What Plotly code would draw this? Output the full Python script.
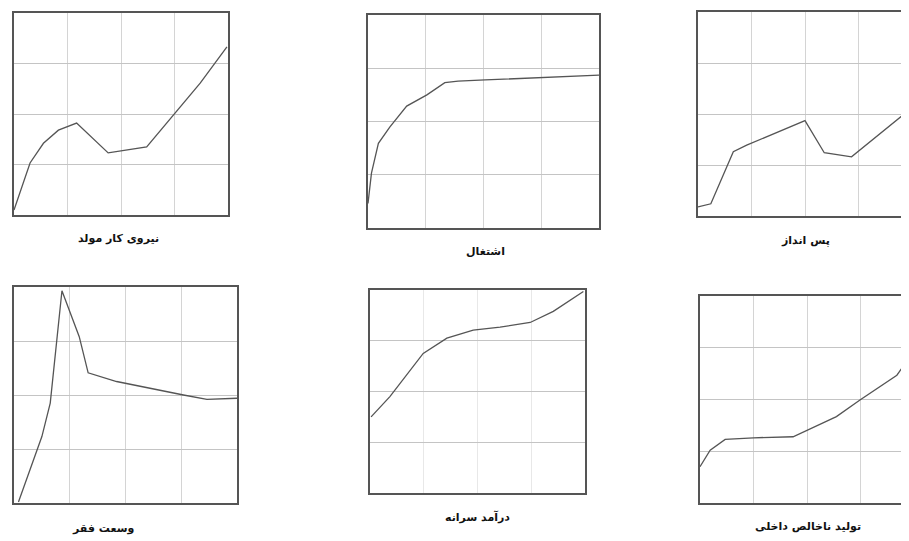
"""Six small line panels (Persian labels) with Plotly."""

import plotly.graph_objects as go

W, H = 909, 541
OFF = 8  # margen por defecto del body en la página

# --- Data (grid units, 4 x 4 grid per panel) ---
labor_x = [0.0, 0.3, 0.55, 0.83, 1.17, 1.76, 2.48, 2.98, 3.48, 3.98]
labor_y = [0.1, 1.03, 1.42, 1.68, 1.82, 1.23, 1.35, 1.98, 2.61, 3.33]

employ_x = [0.0, 0.06, 0.18, 0.38, 0.67, 1.02, 1.33, 1.56, 2.03, 3.0, 4.0]
employ_y = [0.46, 1.03, 1.59, 1.90, 2.29, 2.50, 2.73, 2.76, 2.78, 2.83, 2.87]

saving_x = [0.0, 0.24, 0.66, 0.91, 2.0, 2.36, 2.87, 3.95]
saving_y = [0.18, 0.24, 1.26, 1.39, 1.87, 1.24, 1.16, 2.08]

poverty_x = [0.08, 0.5, 0.65, 0.86, 1.17, 1.33, 1.84, 2.44, 3.04, 3.46, 4.0]
poverty_y = [0.02, 1.23, 1.85, 3.93, 3.08, 2.41, 2.25, 2.12, 2.0, 1.92, 1.94]

income_x = [0.02, 0.37, 0.99, 1.43, 1.92, 2.42, 2.98, 3.41, 3.97]
income_y = [1.50, 1.90, 2.75, 3.05, 3.21, 3.27, 3.36, 3.58, 3.97]

gdp_x = [0.0, 0.19, 0.47, 1.0, 1.74, 2.55, 2.99, 3.68, 3.91]
gdp_y = [0.70, 1.02, 1.23, 1.26, 1.28, 1.67, 1.99, 2.47, 2.80]

labels = ["نیروی کار مولد", "اشتغال", "پس انداز", "وسعت فقر", "درآمد سرانه", "تولید ناخالص داخلی"]

series = [
    (labor_x, labor_y),
    (employ_x, employ_y),
    (saving_x, saving_y),
    (poverty_x, poverty_y),
    (income_x, income_y),
    (gdp_x, gdp_y),
]

# Cajas de cada panel en píxeles de pantalla: (x0, x1, y_top, y_bottom)
boxes = [
    (14, 228, 13, 215),
    (368, 599, 15, 228),
    (698, 912, 12, 216),
    (14, 237, 287, 503),
    (370, 585, 290, 493),
    (700, 914, 296, 503),
]
# Posición de las etiquetas (píxeles de pantalla)
label_pos = [(118, 238), (485, 251), (805, 240), (103, 528), (478, 517), (808, 526)]

fig = go.Figure()
layout = {}
for i, ((xs, ys), (x0, x1, yt, yb)) in enumerate(zip(series, boxes), start=1):
    sfx = "" if i == 1 else str(i)
    fig.add_trace(
        go.Scatter(
            x=xs,
            y=ys,
            mode="lines",
            line=dict(color="#555555", width=1.3),
            xaxis=f"x{sfx}",
            yaxis=f"y{sfx}",
            showlegend=False,
            hoverinfo="skip",
        )
    )
    common = dict(
        showticklabels=False,
        ticks="",
        dtick=1,
        tick0=0,
        showgrid=True,
        gridwidth=1,
        zeroline=False,
        showline=True,
        linecolor="#555555",
        linewidth=1.6,
        mirror=True,
        fixedrange=True,
    )
    layout[f"xaxis{sfx}"] = dict(
        common,
        gridcolor="#d4d4d4" if i != 5 else "#e8e8e8",
        domain=[(x0 - OFF) / W, min(1.0, (x1 - OFF) / W)],
        range=[0, 4],
        anchor=f"y{sfx}",
    )
    layout[f"yaxis{sfx}"] = dict(
        common,
        gridcolor="#c4c4c4",
        domain=[1 - (yb - OFF) / H, 1 - (yt - OFF) / H],
        range=[0, 4],
        anchor=f"x{sfx}",
    )

annotations = [
    dict(
        x=(px - OFF) / W,
        y=1 - (py - OFF) / H,
        xref="paper",
        yref="paper",
        text=f"<b>{txt}</b>",
        showarrow=False,
        font=dict(family="DejaVu Sans", size=11, color="#111111"),
        xanchor="center",
        yanchor="middle",
    )
    for txt, (px, py) in zip(labels, label_pos)
]

fig.update_layout(
    **layout,
    width=W,
    height=H,
    margin=dict(l=0, r=0, t=0, b=0),
    paper_bgcolor="white",
    plot_bgcolor="white",
    annotations=annotations,
)

fig.write_html("out.html")
